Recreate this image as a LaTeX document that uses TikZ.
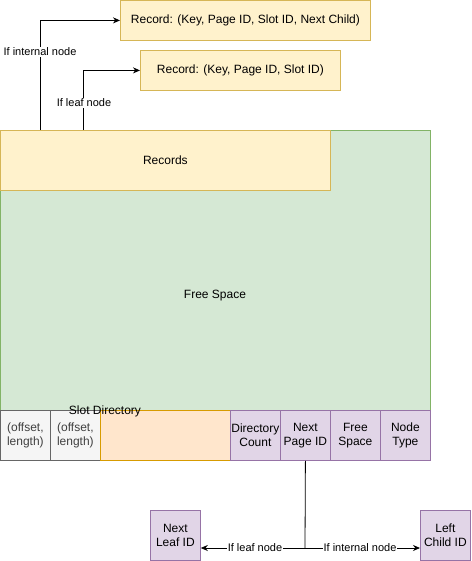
\documentclass[tikz,border=0pt]{standalone}
\usepackage{fontspec}
\setmainfont{Liberation Sans}
\usetikzlibrary{arrows.meta}
\definecolor{ylf}{HTML}{FFF2CC}\definecolor{yld}{HTML}{D6B656}
\definecolor{grf}{HTML}{D5E8D4}\definecolor{grd}{HTML}{82B366}
\definecolor{gyf}{HTML}{F5F5F5}\definecolor{gyd}{HTML}{666666}
\definecolor{orf}{HTML}{FFE6CC}\definecolor{ord}{HTML}{D79B00}
\definecolor{puf}{HTML}{E1D5E7}\definecolor{pud}{HTML}{9673A6}
\tikzset{
  x=1pt,y=-1pt,
  box/.style={draw,line width=0.8pt,inner sep=0pt,align=center,font=\fontsize{12}{14}\selectfont},
  ybox/.style={box,fill=ylf,draw=yld},
  gbox/.style={box,fill=grf,draw=grd},
  gybox/.style={box,fill=gyf,draw=gyd,text=black!75},
  obox/.style={box,fill=orf,draw=ord},
  pbox/.style={box,fill=puf,draw=pud},
  conn/.style={line width=0.8pt,-{Stealth[length=7pt,width=6pt]}},
  lbl/.style={fill=white,inner sep=1pt,font=\fontsize{11}{13}\selectfont}
}
\newcommand{\rectnode}[6]{\node[#1,minimum width=#4,minimum height=#5,anchor=north west] (#2) at (#3) {#6};}
\begin{document}
\begin{tikzpicture}
\useasboundingbox (0,0) rectangle (471,561);
% main page
\rectnode{gbox}{page}{0,130}{430pt}{280pt}{}
\node[font=\fontsize{12}{14}\selectfont] (fs) at (215,296) {Free Space};
\rectnode{ybox}{rec}{0,130}{330pt}{60pt}{Records}
% bottom row
\rectnode{gybox}{s1}{0,410}{50pt}{50pt}{(offset,\\length)}
\rectnode{gybox}{s2}{50,410}{50pt}{50pt}{(offset,\\length)}
\rectnode{obox}{s3}{100,410}{130pt}{50pt}{}
\node[font=\fontsize{12}{14}\selectfont] (sd) at (105,411) {Slot Directory};
\rectnode{pbox}{dc}{230,410}{50pt}{50pt}{Directory\\Count}
\rectnode{pbox}{np}{280,410}{50pt}{50pt}{Next\\Page ID}
\rectnode{pbox}{fsp}{330,410}{50pt}{50pt}{Free\\Space}
\rectnode{pbox}{nt}{380,410}{50pt}{50pt}{Node\\Type}
% top records
\rectnode{ybox}{ri}{120,0}{250pt}{40pt}{Record: (Key, Page ID, Slot ID, Next Child)}
\rectnode{ybox}{rl}{140,50}{200pt}{40pt}{Record: (Key, Page ID, Slot ID)}
% bottom targets
\rectnode{pbox}{nl}{150,510}{50pt}{50pt}{Next\\Leaf ID}
\rectnode{pbox}{lc}{420,510}{50pt}{50pt}{Left\\Child ID}
% connectors
\coordinate (a1) at (40,130);
\coordinate (a2) at (83,130);
\draw[conn] (a1) |- (ri.west);
\draw[conn] (a2) |- (rl.west);
\node[lbl] at (40,52) {If internal node};
\node[lbl] at (84,103) {If leaf node};
\coordinate (b0) at (305,548);
\draw[line width=0.8pt] (np.south) -- (b0);
\draw[conn] (b0) -- (nl.east |- b0);
\draw[conn] (b0) -- (lc.west |- b0);
\node[lbl] at (255,548) {If leaf node};
\node[lbl] at (360,548) {If internal node};
\end{tikzpicture}
\end{document}
